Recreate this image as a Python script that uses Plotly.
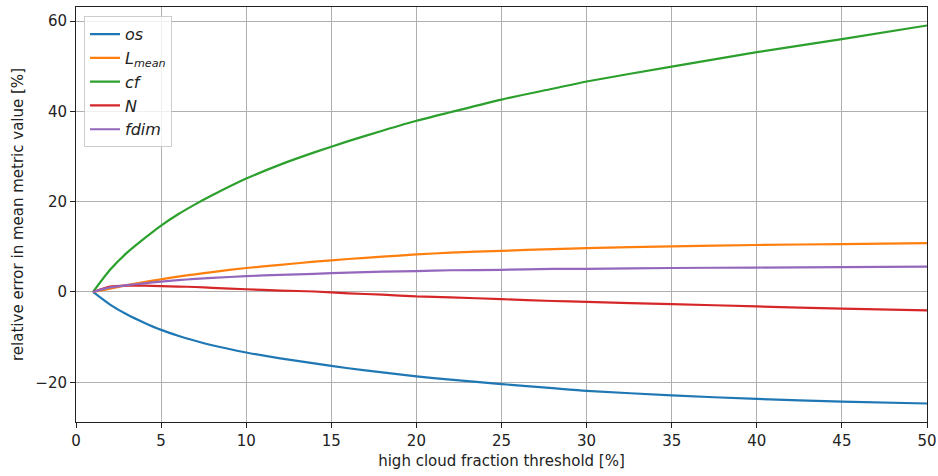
import plotly.graph_objects as go

x_vals = [1, 2, 3, 4, 5, 6, 7, 8, 10, 12, 14, 16, 18, 20, 22, 25, 28, 30, 35, 40, 45, 50]
os_vals = [0, -2.8, -5.0, -6.8, -8.4, -9.7, -10.8, -11.8, -13.4, -14.7, -15.8, -16.9, -17.8, -18.7,
           -19.4, -20.4, -21.3, -21.9, -22.9, -23.7, -24.3, -24.7]
lmean_vals = [0, 0.7, 1.5, 2.2, 2.8, 3.4, 3.9, 4.4, 5.3, 6.0, 6.7, 7.3, 7.8, 8.3,
              8.7, 9.1, 9.5, 9.7, 10.1, 10.4, 10.6, 10.8]
cf_vals = [0, 4.9, 8.7, 11.8, 14.7, 17.2, 19.4, 21.4, 25.1, 28.2, 30.9, 33.4, 35.7, 37.9,
           39.8, 42.6, 45.0, 46.6, 49.9, 53.1, 56.0, 59.0]
n_vals = [0, 1.2, 1.4, 1.4, 1.3, 1.2, 1.1, 0.9, 0.6, 0.3, 0.1, -0.3, -0.6, -1.0,
          -1.2, -1.6, -2.0, -2.2, -2.7, -3.2, -3.7, -4.1]
fdim_vals = [0, 1.0, 1.5, 1.9, 2.3, 2.6, 2.9, 3.1, 3.5, 3.8, 4.0, 4.3, 4.5, 4.6,
             4.8, 4.9, 5.1, 5.1, 5.3, 5.4, 5.5, 5.6]

series = [
    ("<i>os</i>", os_vals, "#1f77b4"),
    ("<i>L</i><sub><i>mean</i></sub>", lmean_vals, "#ff7f0e"),
    ("<i>cf</i>", cf_vals, "#2ca02c"),
    ("<i>N</i>", n_vals, "#d62728"),
    ("<i>fdim</i>", fdim_vals, "#9467bd"),
]

x_ticks = [0, 5, 10, 15, 20, 25, 30, 35, 40, 45, 50]
y_ticks = [-20, 0, 20, 40, 60]
y_tick_text = ["\u221220", "0", "20", "40", "60"]

fig = go.Figure()
for name, vals, color in series:
    fig.add_trace(go.Scatter(x=x_vals, y=vals, mode="lines", name=name,
                             line=dict(color=color, width=2.2, shape="spline", smoothing=0.6)))

font = dict(family="DejaVu Sans", size=15, color="#222")
axis_common = dict(showline=True, linecolor="#222", linewidth=1, mirror=True,
                   ticks="outside", ticklen=5, tickcolor="#222",
                   showgrid=True, gridcolor="#b0b0b0", gridwidth=1, zeroline=False,
                   tickfont=font, title_font=font, automargin=False)

fig.update_layout(
    width=938, height=476,
    margin=dict(l=76, r=11, t=7, b=54),
    paper_bgcolor="white", plot_bgcolor="white",
    font=font,
    xaxis=dict(range=[0, 50], tickvals=x_ticks, title=dict(text="high cloud fraction threshold [%]", standoff=6),
               **axis_common),
    yaxis=dict(range=[-28.8, 63.1], tickvals=y_ticks, ticktext=y_tick_text,
               title=dict(text="relative error in mean metric value [%]", standoff=8), **axis_common),
    legend=dict(x=0.0094, y=0.978, xanchor="left", yanchor="top",
                bgcolor="rgba(255,255,255,0.8)", bordercolor="#cccccc", borderwidth=1,
                font=dict(family="DejaVu Sans", size=16, color="#222"), tracegroupgap=0),
    showlegend=True,
)

fig.write_html("out.html")
